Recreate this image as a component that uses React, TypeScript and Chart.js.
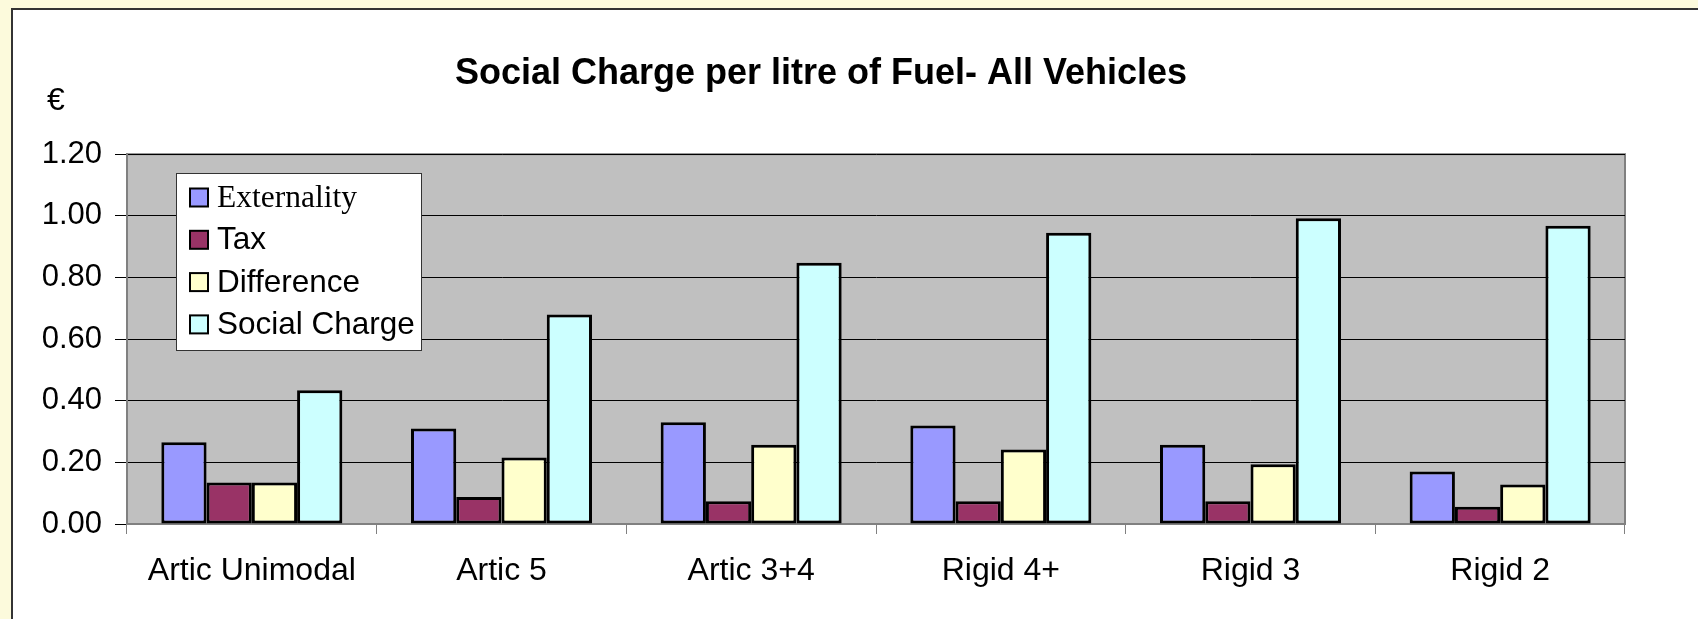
import React, { useEffect, useRef } from "react";
import { Chart, registerables } from "chart.js";

Chart.register(...registerables);

const categories = ["Artic Unimodal", "Artic 5", "Artic 3+4", "Rigid 4+", "Rigid 3", "Rigid 2"];
const externality = [0.265, 0.31, 0.33, 0.32, 0.257, 0.17];
const tax = [0.135, 0.088, 0.074, 0.074, 0.074, 0.056];
const difference = [0.135, 0.216, 0.257, 0.242, 0.194, 0.128];
const socialCharge = [0.434, 0.68, 0.848, 0.945, 0.992, 0.968];
const seriesNames = ["Externality", "Tax", "Difference", "Social Charge"];
const seriesColors = ["#9999FF", "#993366", "#FFFFCC", "#CCFFFF"];
const yTicks = [0, 0.2, 0.4, 0.6, 0.8, 1.0, 1.2];
const titleText = "Social Charge per litre of Fuel- All Vehicles";
const unitLabel = "€";

const W = 1698;
const H = 619;

const framePlugin = {
  id: "frame",
  beforeDraw(chart: any) {
    const { ctx, chartArea } = chart;
    ctx.save();
    ctx.fillStyle = "#FCFADC";
    ctx.fillRect(0, 0, W, H);
    ctx.fillStyle = "#FFFFFF";
    ctx.fillRect(12, 9, W, H);
    ctx.strokeStyle = "#333333";
    ctx.lineWidth = 2;
    ctx.beginPath();
    ctx.moveTo(12, H + 5);
    ctx.lineTo(12, 9);
    ctx.lineTo(W + 5, 9);
    ctx.stroke();
    // plot area
    ctx.fillStyle = "#C0C0C0";
    ctx.fillRect(chartArea.left, chartArea.top, chartArea.right - chartArea.left, chartArea.bottom - chartArea.top);
    ctx.strokeStyle = "#808080";
    ctx.lineWidth = 2;
    ctx.strokeRect(chartArea.left, chartArea.top, chartArea.right - chartArea.left, chartArea.bottom - chartArea.top);
    // unit label
    ctx.fillStyle = "#000";
    ctx.font = "32px 'Liberation Sans', Arial, sans-serif";
    ctx.textBaseline = "alphabetic";
    ctx.textAlign = "left";
    ctx.fillText(unitLabel, 47, 110);
    ctx.restore();
  },
  afterDraw(chart: any) {
    const { ctx } = chart;
    ctx.save();
    const lx = 176.5, ly = 173.5, lw = 245, lh = 177;
    ctx.fillStyle = "#FFFFFF";
    ctx.fillRect(lx, ly, lw, lh);
    ctx.strokeStyle = "#333333";
    ctx.lineWidth = 1;
    ctx.strokeRect(lx, ly, lw, lh);
    chart.data.datasets.forEach((ds: any, i: number) => {
      const cy = ly + 24 + i * 42.3;
      ctx.fillStyle = ds.backgroundColor;
      ctx.fillRect(190, cy - 9, 18, 18);
      ctx.strokeStyle = "#000";
      ctx.lineWidth = 2;
      ctx.strokeRect(190, cy - 9, 18, 18);
      ctx.fillStyle = "#000";
      ctx.font = i === 0 ? "31.5px 'Liberation Serif', 'Times New Roman', serif" : "31.5px 'Liberation Sans', Arial, sans-serif";
      ctx.textBaseline = "middle";
      ctx.textAlign = "left";
      ctx.fillText(ds.label, 217, cy + 1);
    });
    ctx.restore();
  },
};

export default function App() {
  const ref = useRef<HTMLCanvasElement | null>(null);
  useEffect(() => {
    if (!ref.current) return;
    const series = [externality, tax, difference, socialCharge];
    const chart = new Chart(ref.current, {
      type: "bar",
      data: {
        labels: categories,
        datasets: series.map((d, i) => ({
          label: seriesNames[i],
          data: d,
          backgroundColor: seriesColors[i],
          borderColor: "#000000",
          borderWidth: 3,
          borderSkipped: false,
          categoryPercentage: 0.725,
          barPercentage: 1.0,
        })),
      },
      options: {
        animation: false,
        responsive: false,
        devicePixelRatio: 1,
        layout: { padding: { left: 17, right: 73, top: 0, bottom: 0 } },
        plugins: {
          legend: { display: false },
          tooltip: { enabled: false },
          title: {
            display: true,
            text: titleText,
            color: "#000",
            font: { family: "'Liberation Sans', Arial, sans-serif", size: 36, weight: "bold", lineHeight: 1.2 },
            padding: { top: 52, bottom: 59 },
          },
        },
        scales: {
          x: {
            grid: { display: true, drawOnChartArea: false, drawTicks: true, tickLength: 10, color: "#808080", lineWidth: 1, offset: true },
            border: { display: true, color: "#808080", width: 2 },
            ticks: { color: "#000", font: { family: "'Liberation Sans', Arial, sans-serif", size: 32 }, padding: 18, maxRotation: 0 },
            afterFit: (s: any) => { s.height = 95; },
          },
          y: {
            min: 0,
            max: 1.2,
            afterBuildTicks: (s: any) => { s.ticks = yTicks.map((v) => ({ value: v })); },
            grid: { color: "#000000", lineWidth: 1, tickLength: 12, drawTicks: true },
            border: { display: true, color: "#808080", width: 2 },
            ticks: {
              color: "#000",
              font: { family: "'Liberation Sans', Arial, sans-serif", size: 31 },
              padding: 13,
              callback: (v: any) => Number(v).toFixed(2),
            },
            afterFit: (s: any) => { s.width = 110; },
          },
        },
      },
      plugins: [framePlugin],
    });
    return () => chart.destroy();
  }, []);
  return (
    <div style={{ position: "fixed", left: 0, top: 0, width: W, height: H }}>
      <canvas ref={ref} width={W} height={H} style={{ width: W, height: H, display: "block" }} />
    </div>
  );
}
